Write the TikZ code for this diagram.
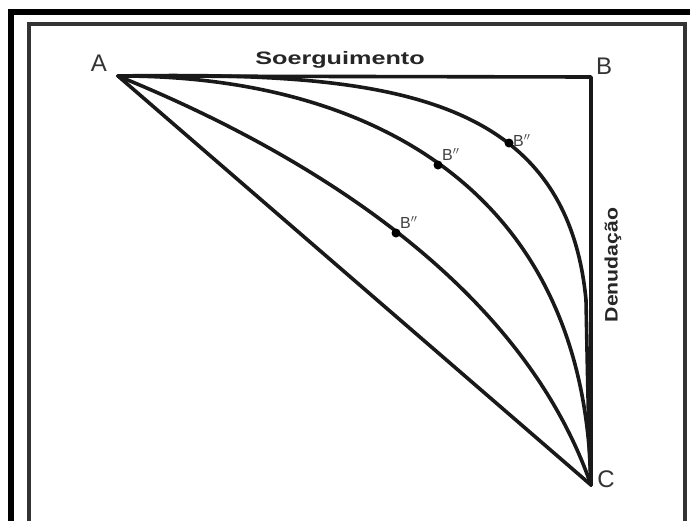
\documentclass[tikz,border=0pt]{standalone}
\usepackage{fontspec}
\usepackage{graphicx}
\setmainfont{Liberation Sans}
\begin{document}
\begin{tikzpicture}[x=1pt,y=-1pt,
  curve/.style={line width=3.6pt,color=black!90,line cap=round,line join=round},
  lbl/.style={font=\fontsize{24}{24}\selectfont,text=black!80,inner sep=0pt},
  small/.style={font=\fontsize{16}{16}\selectfont,text=black!75,inner sep=0pt},
  dot/.style={circle,fill=black,inner sep=0pt,minimum size=9pt},
  title/.style={inner sep=0pt,font=\bfseries\fontsize{18}{18}\selectfont,text=black!85}]
\useasboundingbox (0,0) rectangle (690,520);
\fill[white] (0,0) rectangle (690,520);
\draw[line width=6pt,black] (11,12) rectangle (720,560);
\draw[line width=4pt,black!80] (29,23.5) rectangle (685,560);
\coordinate (A) at (118,76);
\coordinate (B) at (591,77);
\coordinate (C) at (591,485);
\coordinate (M) at (586,300);
\draw[curve] (A) -- (B) -- (C);
\draw[curve] (A) -- (C);
\draw[curve] (A) .. controls (300,150) and (520,280) .. (C);
\draw[curve] (A) .. controls (350,75) and (585,175) .. (C);
\draw[curve] (A) .. controls (380,72) and (566,90) .. (M) .. controls (588,400) and (589,450) .. (C);
\node[dot] (d1) at (396,233) {};
\node[dot] (d2) at (438,165) {};
\node[dot] (d3) at (509,143) {};
\node[small,anchor=south west] (l1) at (400,229) {B$^{\prime\prime}$};
\node[small,anchor=south west] (l2) at (442,161) {B$^{\prime\prime}$};
\node[small,anchor=south west] (l3) at (513,147) {B$^{\prime\prime}$};
\node[lbl] (nA) at (99,63) {A};
\node[lbl] (nB) at (604,66) {B};
\node[lbl] (nC) at (606,479) {C};
\node[title] (s) at (340,60) {\scalebox{1.4}[1]{Soerguimento}};
\node[title,rotate=90] (dn) at (613,265) {\scalebox{1.18}[1]{Denudação}};
\end{tikzpicture}
\end{document}
